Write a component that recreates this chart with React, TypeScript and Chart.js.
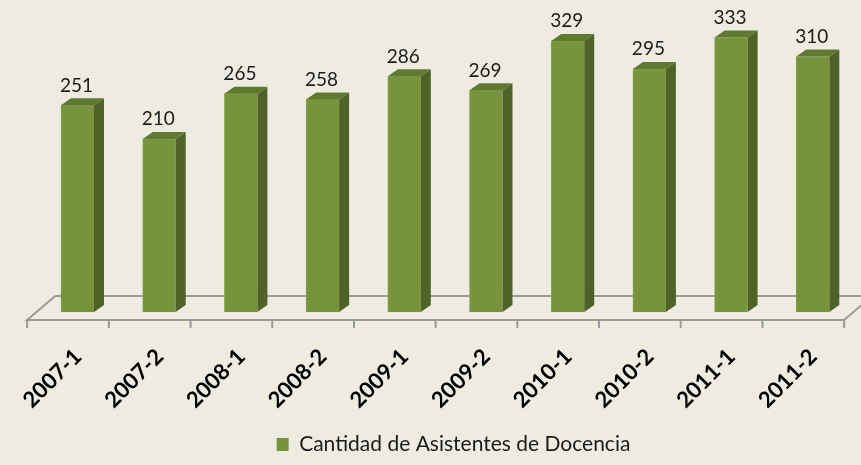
import React, { useEffect, useRef } from "react";
import { Chart, registerables } from "chart.js";

Chart.register(...registerables);

// ---- data ----
const categories = ["2007-1", "2007-2", "2008-1", "2008-2", "2009-1", "2009-2", "2010-1", "2010-2", "2011-1", "2011-2"];
const values = [251, 210, 265, 258, 286, 269, 329, 295, 333, 310];
const seriesName = "Cantidad de Asistentes de Docencia";

// ---- style ----
const BG = "#EEECE1";
const FRONT = "#77933C";
const FRONT_EDGE = "#85A24A";
const SIDE = "#4F6228";
const TOP = "#5F7931";
const FLOOR = "#9A9A9A";
const DEPTH_X = 10;
const DEPTH_Y = 7;
const FONT = "Lato, 'Open Sans', sans-serif";

const W = 861;
const H = 465;
const LEGEND_FONT = 21;
const LEGEND_PAD = 10;
const PAD_TOP = 10;
const PAD_LEFT = 46;
const ZERO_PX = 312;
const PX_PER_UNIT = 0.824;
const chartBottom = H - (LEGEND_FONT + LEGEND_PAD + 10);
const Y_MIN = -(chartBottom - ZERO_PX) / PX_PER_UNIT;
const Y_MAX = (ZERO_PX - PAD_TOP) / PX_PER_UNIT;
const CAT_PX = 81.7;
const FIRST_PX = 77.5;
const X_MIN = -(FIRST_PX - PAD_LEFT) / CAT_PX;
const X_MAX = X_MIN + (W - PAD_LEFT) / CAT_PX;

const threeD = {
  id: "threeD",
  beforeDraw(chart: any) {
    const { ctx } = chart;
    ctx.save();
    ctx.fillStyle = BG;
    ctx.fillRect(0, 0, chart.width, chart.height);
    ctx.restore();
  },
  beforeDatasetsDraw(chart: any) {
    const { ctx } = chart;
    const xs = chart.scales.x;
    const ys = chart.scales.y;
    const base = ys.getPixelForValue(0);
    const shift = 9.5;
    const fy = base + 8;
    const by = base - 16;
    const dx = 28;
    const x0 = xs.getPixelForValue(-0.5) - shift;
    const x1 = xs.getPixelForValue(categories.length - 0.5) - shift;
    ctx.save();
    ctx.strokeStyle = FLOOR;
    ctx.lineWidth = 2;
    ctx.beginPath();
    ctx.moveTo(x0 + dx, by);
    ctx.lineTo(x0, fy);
    ctx.lineTo(x1, fy);
    ctx.lineTo(x1 + dx, by);
    ctx.lineTo(x0 + dx, by);
    for (let k = 0; k <= categories.length; k++) {
      const tx = xs.getPixelForValue(k - 0.5) - shift;
      ctx.moveTo(tx, fy);
      ctx.lineTo(tx, fy + 8);
    }
    ctx.stroke();
    ctx.restore();
  },
  afterDatasetsDraw(chart: any) {
    const { ctx } = chart;
    const xs = chart.scales.x;
    const ys = chart.scales.y;
    const meta = chart.getDatasetMeta(0);
    ctx.save();
    meta.data.forEach((el: any, i: number) => {
      const { x, y, base, width } = el.getProps(["x", "y", "base", "width"], true);
      const l = x - width / 2;
      const r = x + width / 2;
      ctx.fillStyle = SIDE;
      ctx.beginPath();
      ctx.moveTo(r, y);
      ctx.lineTo(r + DEPTH_X, y - DEPTH_Y);
      ctx.lineTo(r + DEPTH_X, base - DEPTH_Y);
      ctx.lineTo(r, base);
      ctx.closePath();
      ctx.fill();
      ctx.fillStyle = TOP;
      ctx.beginPath();
      ctx.moveTo(l, y);
      ctx.lineTo(l + DEPTH_X, y - DEPTH_Y);
      ctx.lineTo(r + DEPTH_X, y - DEPTH_Y);
      ctx.lineTo(r, y);
      ctx.closePath();
      ctx.fill();
      ctx.fillStyle = "#1A1A1A";
      ctx.font = `19px ${FONT}`;
      ctx.textAlign = "center";
      ctx.textBaseline = "alphabetic";
      ctx.fillText(String(values[i]), x - 1, y - 13.5);
    });
    const fy = ys.getPixelForValue(0) + 8;
    ctx.font = `bold 22px ${FONT}`;
    ctx.fillStyle = "#000";
    ctx.textAlign = "right";
    ctx.textBaseline = "middle";
    categories.forEach((c, i) => {
      const cx = xs.getPixelForValue(i) - 9.5;
      ctx.save();
      ctx.translate(cx + 10, fy + 33);
      ctx.rotate(-Math.PI / 4);
      ctx.fillText(c, 0, 0);
      ctx.restore();
    });
    ctx.restore();
  },
};

export default function App() {
  const ref = useRef<HTMLCanvasElement>(null);
  useEffect(() => {
    document.body.style.margin = "0";
    document.body.style.background = BG;
    const canvas = ref.current!;
    const chart = new Chart(canvas, {
      type: "bar",
      data: {
        datasets: [
          {
            label: seriesName,
            data: values.map((v, i) => ({ x: i, y: v })),
            backgroundColor: FRONT,
            borderColor: FRONT_EDGE,
            borderWidth: { left: 1, top: 1, right: 0, bottom: 0 },
            barThickness: 33,
          },
        ],
      },
      options: {
        responsive: false,
        animation: false,
        layout: { padding: { left: PAD_LEFT, right: 0, top: PAD_TOP, bottom: 0 } },
        scales: {
          x: { type: "linear", min: X_MIN, max: X_MAX, offset: false, display: false },
          y: { min: Y_MIN, max: Y_MAX, display: false },
        },
        plugins: {
          legend: {
            position: "bottom",
            labels: {
              boxWidth: 12,
              boxHeight: 13,
              padding: LEGEND_PAD,
              color: "#1A1A1A",
              font: { family: FONT, size: LEGEND_FONT },
              generateLabels: () => [
                {
                  text: seriesName,
                  fillStyle: FRONT,
                  strokeStyle: FRONT,
                  lineWidth: 0,
                  datasetIndex: 0,
                  fontColor: "#1A1A1A",
                },
              ],
            },
          },
          tooltip: { enabled: false },
        },
      },
      plugins: [threeD],
    } as any);
    return () => chart.destroy();
  }, []);
  return (
    <div style={{ position: "fixed", left: 0, top: 0, width: W, height: H, background: BG }}>
      <canvas ref={ref} width={W} height={H} style={{ display: "block", width: W, height: H }} />
    </div>
  );
}
